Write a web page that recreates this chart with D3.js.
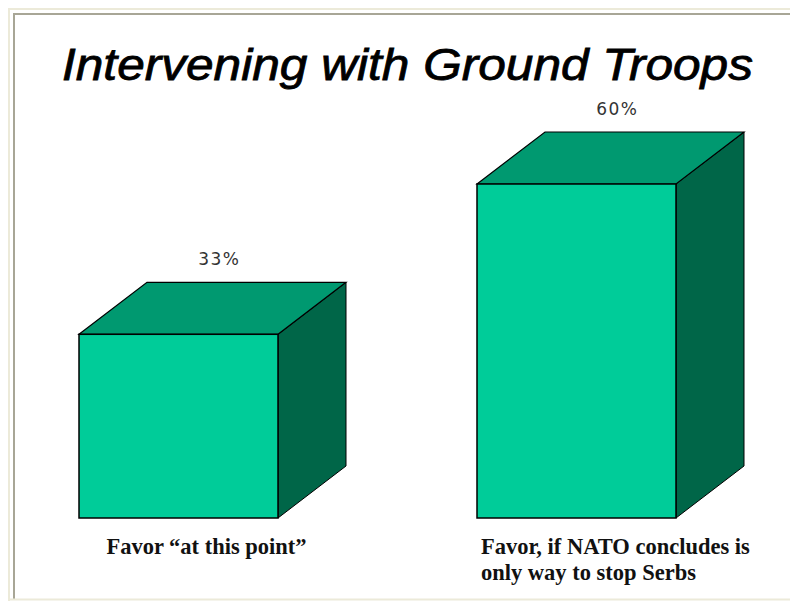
<!DOCTYPE html>
<html>
<head>
<meta charset="utf-8">
<script src="https://cdn.jsdelivr.net/npm/d3@7"></script>
<style>
  html, body { margin: 0; padding: 0; background: #ffffff; }
  svg { display: block; }
</style>
</head>
<body>
<svg id="chart" width="790" height="601"></svg>
<script>
// Poll results: share favouring ground troops
const titleText = "Intervening with Ground Troops";
const categories = ["at this point", "if NATO concludes"];
const values = [33, 60];
const valueLabels = ["33%", "60%"];
const categoryLabels = [
  ["Favor \u201cat this point\u201d"],
  ["Favor, if NATO concludes is", "only way to stop  Serbs"]
];

const W = 790, H = 601;
const svg = d3.select("#chart");

// Window frame
svg.append("rect").attr("x", 0).attr("y", 0).attr("width", W).attr("height", H).attr("fill", "#ffffff");
svg.append("line").attr("x1", 8).attr("x2", W).attr("y1", 9).attr("y2", 9)
  .attr("stroke", "#ecead9").attr("stroke-width", 2);
svg.append("line").attr("x1", 9).attr("x2", 9).attr("y1", 8).attr("y2", H)
  .attr("stroke", "#ecead9").attr("stroke-width", 2);
svg.append("line").attr("x1", 13).attr("x2", W).attr("y1", 14).attr("y2", 14)
  .attr("stroke", "#a8a696").attr("stroke-width", 2);
svg.append("line").attr("x1", 14).attr("x2", 14).attr("y1", 13).attr("y2", 599)
  .attr("stroke", "#a8a696").attr("stroke-width", 2);
svg.append("line").attr("x1", 8).attr("x2", W).attr("y1", 599.5).attr("y2", 599.5)
  .attr("stroke", "#ecead9").attr("stroke-width", 2);

// Title
svg.append("text")
  .attr("x", 62).attr("y", 80)
  .attr("textLength", 691).attr("lengthAdjust", "spacingAndGlyphs")
  .attr("font-family", "'Liberation Sans', Arial, sans-serif")
  .attr("font-style", "italic")
  .attr("font-size", 44)
  .attr("fill", "#000")
  .attr("stroke", "#000").attr("stroke-width", 0.8)
  .text(titleText);

// Scales
const x = d3.scaleBand().domain(categories).range([79, 676]).paddingInner(0.5).paddingOuter(0);
const y = d3.scaleLinear().domain([0, 60]).range([518, 184]);
const dx = 68, dy = 52;

const colFront = "#00cc99", colTop = "#009970", colSide = "#006648";

const bars = svg.append("g").selectAll("g").data(categories).enter().append("g");

bars.each(function(c, i) {
  const g = d3.select(this);
  const x0 = x(c), x1 = x(c) + x.bandwidth();
  const yt = y(values[i]), yb = y(0);
  const poly = pts => pts.map(p => p.join(",")).join(" ");
  // right side face
  g.append("polygon")
    .attr("points", poly([[x1, yt], [x1 + dx, yt - dy], [x1 + dx, yb - dy], [x1, yb]]))
    .attr("fill", colSide).attr("stroke", "#000").attr("stroke-width", 1);
  // top face
  g.append("polygon")
    .attr("points", poly([[x0, yt], [x0 + dx, yt - dy], [x1 + dx, yt - dy], [x1, yt]]))
    .attr("fill", colTop).attr("stroke", "#000").attr("stroke-width", 1.2);
  // front face
  g.append("rect")
    .attr("x", x0).attr("y", yt).attr("width", x.bandwidth()).attr("height", yb - yt)
    .attr("fill", colFront).attr("stroke", "#000").attr("stroke-width", 1.5);
  // value label
  g.append("text")
    .attr("x", x0 + x.bandwidth() / 2 + dx * 0.6)
    .attr("y", yt - dy - 17)
    .attr("text-anchor", "middle")
    .attr("font-family", "'DejaVu Sans', sans-serif")
    .attr("font-size", 17)
    .attr("letter-spacing", 1.5)
    .attr("fill", "#333")
    .text(valueLabels[i]);
  // category label block, centred under the bar (single lines sit a little left)
  const lines = categoryLabels[i];
  const t = g.append("text")
    .attr("font-family", "'Liberation Serif', 'Times New Roman', serif")
    .attr("font-weight", "bold")
    .attr("font-size", 22.5)
    .attr("fill", "#111");
  lines.forEach((line, k) => {
    t.append("tspan").attr("x", 0).attr("y", 554 + k * 26).text(line);
  });
  const bw = t.node().getBBox().width;
  const cx = x0 + (x.bandwidth() + dx) / 2 + (lines.length > 1 ? 5 : -6);
  t.attr("transform", `translate(${cx - bw / 2},0)`);
});
</script>
</body>
</html>
